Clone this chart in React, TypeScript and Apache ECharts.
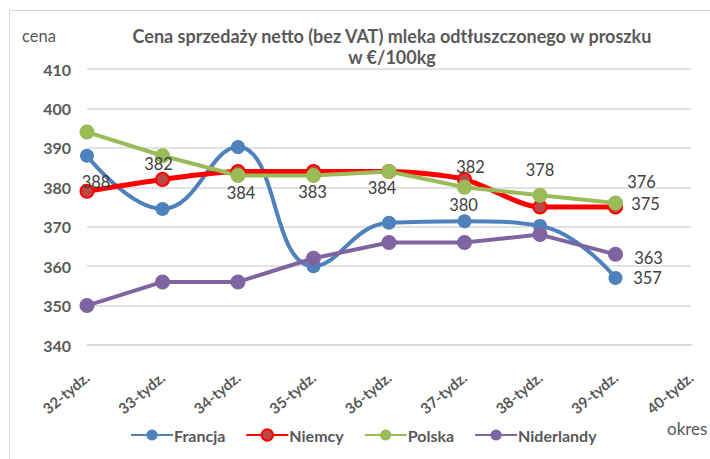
import React, { useEffect, useRef } from "react";
import * as echarts from "echarts";

const categories = ["32-tydz.", "33-tydz.", "34-tydz.", "35-tydz.", "36-tydz.", "37-tydz.", "38-tydz.", "39-tydz.", "40-tydz."];
const seriesNames = ["Francja", "Niemcy", "Polska", "Niderlandy"];
const francja = [388, 374.5, 390.2, 360, 371, 371.4, 370.2, 357];
const niemcy = [379, 382, 384, 384, 384, 382, 375, 375];
const polska = [394, 388, 383, 383, 384, 380, 378, 376];
const niderlandy = [350, 356, 356, 362, 366, 366, 368, 363];
const yTicks = { min: 340, max: 410, interval: 10 };
const titleLines = ["Cena sprzedaży netto (bez VAT) mleka odtłuszczonego w proszku", "w €/100kg"];
const yAxisName = "cena";
const xAxisName = "okres";

// which points carry a data label, with the label's offset from the point
const labelsFrancja: Record<number, [number, number]> = { 0: [9, 26], 7: [32, 0] };
const labelsNiemcy: Record<number, [number, number]> = { 1: [-4, -15], 2: [3, 21], 5: [6, -12], 7: [30, -3] };
const labelsPolska: Record<number, [number, number]> = { 3: [-1, 17], 4: [-7, 16], 5: [-1, 18], 6: [0, -25], 7: [26, -21] };
const labelsNiderlandy: Record<number, [number, number]> = { 7: [33, 4] };

const FONT = "Lato, 'Open Sans', sans-serif";
const GRAY = "#595959";

function withLabels(values: number[], labels: Record<number, [number, number]>) {
  return values.map((v, i) => {
    const off = labels[i];
    if (!off) return { value: v };
    return {
      value: v,
      label: {
        show: true,
        position: "inside",
        offset: off,
        formatter: (p: any) => String(Math.round(p.value)),
        color: "#404040",
        fontSize: 16.5,
        fontFamily: FONT,
      },
    };
  });
}

export default function App() {
  const ref = useRef<HTMLDivElement>(null);
  useEffect(() => {
    if (!ref.current) return;
    const chart = echarts.init(ref.current, null, { renderer: "svg" });
    const colors = ["#4F81BD", "#FF0000", "#9BBB59", "#8064A2"];
    chart.setOption({
      animation: false,
      backgroundColor: "#ffffff",
      color: colors,
      grid: { left: 87, right: 19, top: 69, bottom: 114, containLabel: false },
      graphic: [
        {
          type: "rect",
          shape: { x: 9.5, y: 10.5, width: 720, height: 470 },
          style: { fill: "none", stroke: "#D9D9D9", lineWidth: 1 },
          silent: true,
        },
        {
          type: "text",
          x: 392,
          y: 36,
          style: { text: titleLines[0], fill: GRAY, font: `bold 18px ${FONT}`, textAlign: "center", textVerticalAlign: "middle" },
        },
        {
          type: "text",
          x: 392,
          y: 57,
          style: { text: titleLines[1], fill: GRAY, font: `bold 18px ${FONT}`, textAlign: "center", textVerticalAlign: "middle" },
        },
        {
          type: "text",
          x: 22,
          y: 36,
          style: { text: yAxisName, fill: GRAY, font: `16.5px ${FONT}`, textAlign: "left", textVerticalAlign: "middle" },
        },
        {
          type: "text",
          x: 667,
          y: 428,
          style: { text: xAxisName, fill: GRAY, font: `17px ${FONT}`, textAlign: "left", textVerticalAlign: "middle" },
        },
      ],
      legend: {
        data: seriesNames,
        left: 130,
        top: 427,
        padding: 0,
        itemWidth: 42,
        itemHeight: 14,
        itemGap: 20,
        textStyle: { color: GRAY, fontSize: 16, fontWeight: "bold", fontFamily: FONT, padding: [0, 0, 0, -4] },
      },
      xAxis: {
        type: "category",
        data: categories,
        boundaryGap: false,
        axisLine: { show: true, lineStyle: { color: "#D9D9D9", width: 1.5 } },
        axisTick: { show: false },
        axisLabel: { rotate: 40, color: GRAY, fontSize: 15, fontWeight: "bold", fontFamily: FONT, margin: 30, interval: 0 },
      },
      yAxis: {
        type: "value",
        min: yTicks.min,
        max: yTicks.max,
        interval: yTicks.interval,
        axisLine: { show: false },
        axisTick: { show: false },
        splitLine: { lineStyle: { color: "#D9D9D9", width: 1.5 } },
        axisLabel: { color: GRAY, fontSize: 16, fontWeight: "bold", fontFamily: FONT, margin: 16 },
      },
      series: [
        {
          name: seriesNames[0],
          type: "line",
          smooth: 0.45,
          data: withLabels(francja, labelsFrancja),
          symbol: "circle",
          symbolSize: 14,
          lineStyle: { width: 4, color: colors[0] },
          itemStyle: { color: colors[0] },
        },
        {
          name: seriesNames[1],
          type: "line",
          smooth: 0.25,
          data: withLabels(niemcy, labelsNiemcy),
          symbol: "circle",
          symbolSize: 13,
          lineStyle: { width: 5, color: colors[1] },
          itemStyle: { color: "#B94A48", borderColor: "#FF0000", borderWidth: 2 },
        },
        {
          name: seriesNames[2],
          type: "line",
          data: withLabels(polska, labelsPolska),
          symbol: "circle",
          symbolSize: 15,
          lineStyle: { width: 4, color: colors[2] },
          itemStyle: { color: colors[2] },
        },
        {
          name: seriesNames[3],
          type: "line",
          data: withLabels(niderlandy, labelsNiderlandy),
          symbol: "circle",
          symbolSize: 15,
          lineStyle: { width: 4, color: colors[3] },
          itemStyle: { color: colors[3] },
        },
      ],
    });
    return () => chart.dispose();
  }, []);
  return (
    <div
      ref={ref}
      style={{ position: "absolute", left: 0, top: 0, width: 710, height: 459, background: "#fff" }}
    />
  );
}
